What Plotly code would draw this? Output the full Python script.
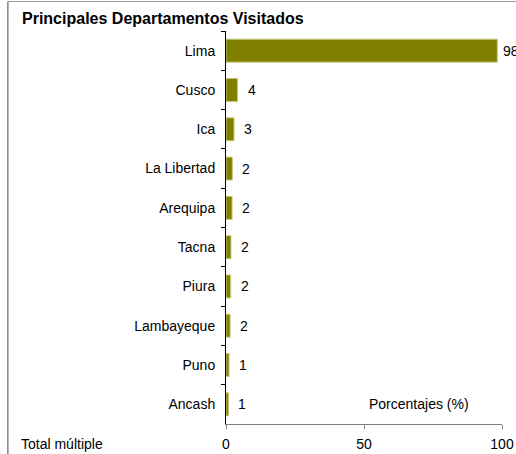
import plotly.graph_objects as go

departamentos = ["Lima", "Cusco", "Ica", "La Libertad", "Arequipa", "Tacna",
                 "Piura", "Lambayeque", "Puno", "Ancash"]
porcentajes = [98.3, 4.2, 2.9, 2.3, 2.2, 1.8, 1.7, 1.5, 1.1, 0.9]
etiquetas = ["98", "4", "3", "2", "2", "2", "2", "2", "1", "1"]
x_ticks = [0, 50, 100]

W, H = 516, 454
L, R, T, B = 226, 13.5, 31, 30
pw, ph = W - L - R, H - T - B

def px(x):
    return (x - L) / pw

def py(y):
    return (H - B - y) / ph

FONT = "Liberation Sans, Arial, sans-serif"

fig = go.Figure()
fig.add_trace(go.Bar(
    x=porcentajes, y=departamentos, orientation="h",
    marker=dict(color="#808000", line=dict(color="#c9c97a", width=1)),
    hoverinfo="skip",
))

annotations = []
for d, v, t in zip(departamentos, porcentajes, etiquetas):
    annotations.append(dict(x=v, y=d, xref="x", yref="y", text=t, showarrow=False,
                            xanchor="center", yanchor="middle", xshift=14,
                            font=dict(size=14, color="#000", family=FONT)))
annotations += [
    dict(x=px(19.5), y=py(18.5), xref="paper", yref="paper", xanchor="left", yanchor="middle",
         text="<b>Principales Departamentos Visitados</b>", showarrow=False,
         font=dict(size=16, color="#000", family=FONT)),
    dict(x=px(19), y=py(444), xref="paper", yref="paper", xanchor="left", yanchor="middle",
         text="Total múltiple", showarrow=False,
         font=dict(size=14, color="#000", family=FONT)),
    dict(x=px(367), y=py(404), xref="paper", yref="paper", xanchor="left", yanchor="middle",
         text="Porcentajes (%)", showarrow=False,
         font=dict(size=14, color="#000", family=FONT)),
]

fig.update_layout(
    width=W, height=H, autosize=False,
    margin=dict(l=L, r=R, t=T, b=B, pad=0, autoexpand=False),
    paper_bgcolor="white", plot_bgcolor="white",
    showlegend=False, bargap=0.415,
    font=dict(family=FONT, size=14, color="#000"),
    annotations=annotations,
    shapes=[
        dict(type="line", xref="paper", yref="paper", x0=px(7.5), x1=px(7.5),
             y0=py(1.5), y1=py(470), line=dict(color="#444", width=1)),
        dict(type="line", xref="paper", yref="paper", x0=px(7.5), x1=px(530),
             y0=py(1.5), y1=py(1.5), line=dict(color="#999", width=1)),
    ],
    xaxis=dict(range=[0, 100], tickvals=x_ticks, ticktext=[str(v) for v in x_ticks],
               showgrid=False, zeroline=False, showline=True, linecolor="#808080",
               linewidth=1, ticks="outside", ticklen=4, tickcolor="#808080",
               automargin=False,
               ticklabelstandoff=3, tickfont=dict(size=14, color="#000")),
    yaxis=dict(categoryorder="array", categoryarray=departamentos, autorange="reversed",
               showgrid=False, zeroline=False, showline=True, linecolor="#000",
               linewidth=1, ticks="outside", ticklen=4, tickcolor="#000",
               automargin=False,
               tickson="boundaries", ticklabelstandoff=7,
               tickfont=dict(size=14, color="#000")),
)

fig.write_html("out.html",
               config={"responsive": False, "displayModeBar": False, "staticPlot": True},
               post_script="document.documentElement.style.overflow='hidden';"
                           "document.body.style.margin='0';document.body.style.overflow='hidden';")
